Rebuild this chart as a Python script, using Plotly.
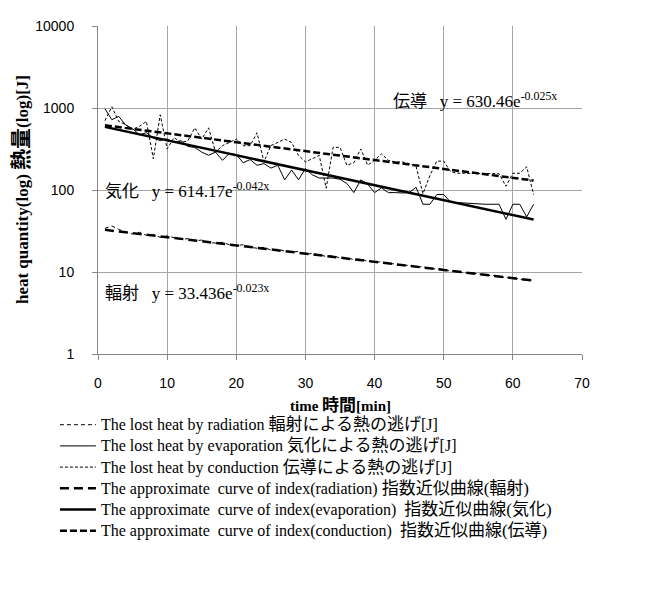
import numpy as np
import plotly.graph_objects as go

# ---------------- data ----------------
minutes = list(range(1, 64))

radiation = [34, 36.5, 33, 31, 29, 30.5, 28, 28.5, 26.5, 27.5,
             26.5, 25, 25.5, 24, 24.5, 23, 22.5, 23, 21.5, 21,
             21.5, 20, 19.5, 20, 18.5, 19, 18, 17.5, 17.8, 16.5,
             16.8, 16, 15.5, 15.8, 14.8, 14.8, 14.2, 14.4, 13.5, 13.2,
             13.3, 12.6, 12.6, 12.0, 12.1, 11.5, 11.6, 11.0, 10.8, 10.8,
             10.2, 10.3, 9.7, 9.8, 9.5, 9.0, 9.1, 8.9, 8.5, 8.6,
             8.2, 7.9, 8.0]

evaporation = [980, 720, 790, 620, 560, 470, 500, 430, 400, 420,
               380, 400, 340, 330, 290, 265, 290, 230, 280, 270,
               215, 235, 200, 210, 185, 200, 133, 175, 133, 183,
               153, 140, 140, 140, 135, 120, 93, 133, 118, 93,
               106, 93, 93, 92, 93, 108, 67, 67, 88, 88,
               71, 70, 70, 68, 68, 67, 67, 67, 44, 67,
               67, 47, 67]

conduction = [700, 1035, 687, 627, 547, 599, 687, 241, 825, 317,
              435, 380, 398, 573, 417, 573, 289, 347, 380, 417,
              347, 347, 499, 220, 347, 380, 417, 380, 264, 220,
              240, 264, 105, 331, 331, 200, 215, 317, 201, 230,
              276, 230, 220, 220, 210, 195, 90, 150, 225, 225,
              167, 160, 160, 160, 160, 158, 158, 158, 111, 160,
              160, 192, 88]

# exponential trend coefficients printed on the chart: y = a * e^(b x)
trend_names = ["輻射", "気化", "伝導"]
trend_a = [33.436, 614.17, 630.46]
trend_b = [-0.023, -0.042, -0.025]

x_ticks = [0, 10, 20, 30, 40, 50, 60, 70]
y_ticks = [1, 10, 100, 1000, 10000]
y_tick_labels = ["1", "10", "100", "1000", "10000"]

# ---------------- styling ----------------
SERIF = "Liberation Serif, Noto Sans CJK JP"
SANS = "Liberation Sans, Arial, sans-serif"
AXIS_COL = "#868686"
GRID_COL = "#a6a6a6"
NB = "\u00a0"


def sz(s, size):
    return '<span style="font-size:%spx">%s</span>' % (size, s)


def leg(en, ja, tail="", gap=" "):
    return sz(en + gap, 16) + sz(ja, 17) + (sz(tail, 16) if tail else "")


legend_names = [
    leg("The lost heat by radiation", "輻射による熱の逃げ", "[J]"),
    leg("The lost heat by evaporation", "気化による熱の逃げ", "[J]"),
    leg("The lost heat by conduction", "伝導による熱の逃げ", "[J]"),
    leg("The approximate" + NB + " curve of index(radiation)", "指数近似曲線(輻射)"),
    leg("The approximate" + NB + " curve of index(evaporation)", "指数近似曲線(気化)", gap=NB + " "),
    leg("The approximate" + NB + " curve of index(conduction)", "指数近似曲線(伝導)", gap=NB + " "),
]

fig = go.Figure()

data_series = [radiation, evaporation, conduction]
data_dash = ["4px,3px", "solid", "3px,2px"]
for i, ys in enumerate(data_series):
    fig.add_trace(go.Scatter(
        x=minutes, y=ys, mode="lines", name=legend_names[i],
        legendgroup="g%d" % i,
        line=dict(color="black", width=1, dash=data_dash[i]),
    ))

trend_dash = ["9px,5px", "solid", "7px,3px"]
xm = np.array(minutes, dtype=float)
for i in range(3):
    yt = trend_a[i] * np.exp(trend_b[i] * xm)
    fig.add_trace(go.Scatter(
        x=minutes, y=yt, mode="lines", name=legend_names[3 + i],
        legendgroup="g%d" % (3 + i),
        line=dict(color="black", width=2.5, dash=trend_dash[i]),
    ))

# equation labels
label_pos = [(0.0103, 0.188), (0.0103, 0.5), (0.605, 0.774)]
for i in range(3):
    txt = "%s\u00a0\u00a0\u00a0y = %se<sup>%sx</sup>" % (
        trend_names[i], format(trend_a[i], "g"), format(trend_b[i], "g"))
    fig.add_annotation(
        xref="paper", yref="paper", x=label_pos[i][0], y=label_pos[i][1],
        xanchor="left", yanchor="middle", text=txt, showarrow=False,
        font=dict(family=SERIF, size=17, color="black"),
    )

# axis titles
fig.add_annotation(
    xref="paper", yref="paper", x=0.5, y=-0.158, xanchor="center", yanchor="middle",
    text="<b>time " + sz("時間", 17) + "[min]</b>", showarrow=False,
    font=dict(family=SERIF, size=15, color="black"),
)
fig.add_annotation(
    xref="paper", yref="paper", x=-0.159, y=0.5, xanchor="center", yanchor="middle",
    textangle=-90,
    text="<b>heat quantity(log) " + sz("熱量", 21) + "(log)[J]</b>", showarrow=False,
    font=dict(family=SERIF, size=17, color="black"),
)

fig.update_layout(
    width=654, height=596,
    margin=dict(l=90, r=80, t=10, b=250),
    paper_bgcolor="white", plot_bgcolor="white",
    showlegend=True,
    legend=dict(
        x=-0.089, y=-0.168, xanchor="left", yanchor="top",
        font=dict(family=SERIF, size=14, color="black"),
        itemwidth=36, tracegroupgap=1.3, bgcolor="rgba(0,0,0,0)",
        traceorder="normal",
    ),
)
fig.update_xaxes(
    range=[0, 70], tickvals=x_ticks, showgrid=True, gridcolor=GRID_COL, gridwidth=1,
    showline=True, linecolor=AXIS_COL, linewidth=1, ticks="outside", ticklen=5,
    tickcolor=AXIS_COL, tickfont=dict(family=SANS, size=14, color="black"),
    zeroline=False, ticklabelstandoff=11,
)
fig.update_yaxes(
    type="log", range=[0, 4], tickvals=y_ticks, ticktext=y_tick_labels,
    showgrid=True, gridcolor=GRID_COL, gridwidth=1,
    showline=True, linecolor=AXIS_COL, linewidth=1, ticks="outside", ticklen=5,
    tickcolor=AXIS_COL, tickfont=dict(family=SANS, size=14, color="black"),
    zeroline=False, ticklabelstandoff=15,
)

fig.write_html("out.html")
